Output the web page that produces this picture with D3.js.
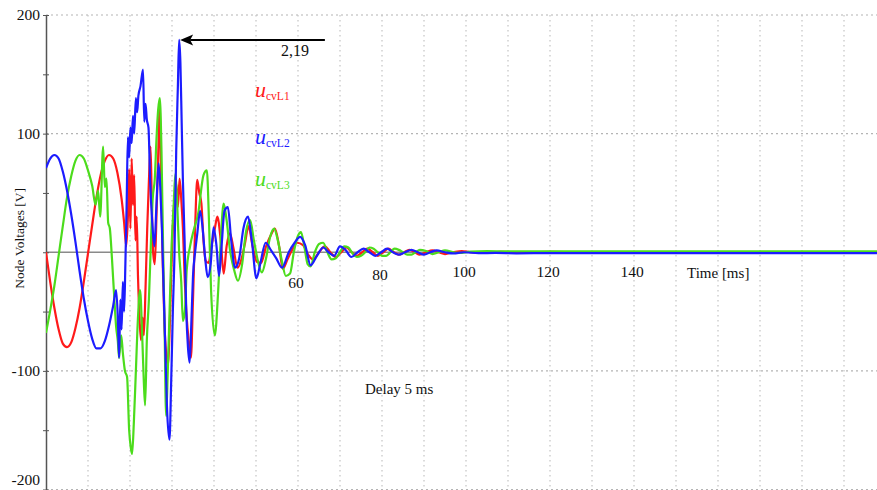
<!DOCTYPE html>
<html>
<head>
<meta charset="utf-8">
<script src="https://cdn.jsdelivr.net/npm/d3@7"></script>
<style>
  html, body { margin: 0; padding: 0; background: #fff; }
  svg { display: block; }
  text { font-family: "Liberation Serif", "Times New Roman", serif; fill: #111; }
</style>
</head>
<body>
<svg id="chart" width="877" height="490"></svg>
<script>
// Node voltages of the three phases, [time ms, voltage V]
const uL1 = [[0,0],[1,-25],[2,-47],[3,-65],[4,-77],[5,-80],[6,-76],[7,-64],[8,-47],[9,-25],[10,-1],[11,23],[12,46],[13,65],[14,77],[15,82],[16,79],[17,67],[18,45],[18.6,25],[19.1,5],
  [19.5,30],[19.8,70],[20.1,20],[20.4,79],[20.7,40],[21.0,65],[21.3,10],[21.6,30],[21.9,-20],[22.2,-50],[22.6,-74],[23.0,-55],[23.3,-70],[23.7,-30],[24.1,20],[24.5,60],[24.9,89],[25.2,40],[25.5,0],[25.9,-10],[26.3,30],[26.7,80],[27.1,124],[27.4,60],[27.8,-10],[28.2,-60],[28.6,-85],[29.0,-95],[29.4,-70],[29.8,-20],[30.2,20],[30.6,45],[31.0,58],[31.4,38],[31.8,62],[32.2,45],[32.6,20],[33.0,-20],[33.5,-55],[34.0,-75],[34.5,-89],[35.0,-40],[35.5,20],[36.0,61],[36.5,50],[37.0,41],[37.5,10],[38.0,-7],[38.7,-9],[39.4,5],[40.2,20],[40.8,30],[41.6,10],[42.3,-18],[43.0,5],[43.8,16],[44.6,4],[45.6,-13],[46.6,-5],[47.4,8],[48.2,22],[49.2,5],[50.2,-8],[51.2,-9],[52.4,5],[53.6,15],[54.5,20],[55.5,5],[56.4,-14],[57.5,-6],[58.6,2],[59.8,8],[61.2,6],[62.4,-2],[63.6,-6],[65,0],[66.4,5],[67.7,0],[69,-4],[70.3,0],[71.5,4],[72.8,0],[74,-3],[75.3,0],[76.5,3],[77.8,0],[79,-3],[80.3,0],[81.5,3],[82.8,0],[84,-2],[85.3,0],[86.5,2],[87.8,0],[89,-2],[90.5,0],[92,1.5],[93.5,0],[95,-1.5],[97,0],[99,1],[101,0],[104,-0.5],[108,0.4],[113,-0.3],[120,0.3],[130,-0.3],[140,0.2],[150,-0.2],[160,0.2],[170,-0.2],[180,0.1],[190,-0.1],[198,0]];

const uL2 = [[0,71],[1,79],[2,82],[3,79],[4,68],[5,52],[6,32],[7,9],[8,-16],[9,-39],[10,-58],[11,-73],[12,-81],[13,-81],[14,-75],[15,-62],[16,-45],[16.7,-32],[17.1,-55],[17.4,-89],[17.7,-40],[18.0,-65],[18.3,-25],[18.6,-50],[18.9,-10],[19.2,40],[19.5,97],[19.8,80],[20.1,105],[20.4,92],[20.7,115],[21.0,100],[21.4,130],[21.7,118],[22.0,132],[22.5,140],[23.1,154],[23.4,110],[23.7,125],[24.0,112],[24.4,105],[24.8,60],[25.3,25],[25.8,5],[26.3,40],[26.8,75],[27.2,55],[27.6,20],[28.0,-30],[28.4,-80],[28.8,-130],[29.4,-158],[29.8,-110],[30.2,-50],[30.6,0],[31.0,85],[31.4,140],[31.7,179],[32.0,160],[32.3,110],[32.6,60],[33.0,10],[33.4,-50],[33.8,-80],[34.2,-93],[34.6,-60],[35.0,-20],[35.5,0],[36.0,15],[36.7,35],[37.3,20],[37.9,-5],[38.5,-21],[39.2,-10],[39.9,21],[40.6,5],[41.2,-20],[41.8,5],[42.5,35],[43.3,38],[44.1,10],[45.0,-13],[46.0,-5],[47.0,20],[48.1,30],[49.0,10],[50.1,-22],[51.0,-10],[52.3,8],[53.5,2],[54.8,-5],[56.2,-13],[57.8,0],[59.2,8],[60.5,13],[61.7,6],[63.0,-11],[64.5,-3],[66.0,4],[67.3,0],[68.6,-3],[70.0,5],[71.3,2],[72.7,-4],[74.2,0],[75.6,3],[77.0,0],[78.4,-3],[79.8,0],[81.2,3],[82.6,0],[84,-2],[85.5,0],[87,2],[88.5,0],[90,-2],[91.5,0],[93,1.5],[95,0],[97,-1],[99.5,0],[103,-0.8],[107,-0.6],[112,-0.9],[120,-0.7],[130,-0.8],[140,-0.7],[150,-0.8],[160,-0.7],[170,-0.8],[180,-0.7],[190,-0.8],[198,-0.7]];

const uL3 = [[0,-68],[1,-49],[2,-28],[3,-3],[4,22],[5,46],[6,64],[7,77],[8,82],[9,79],[10,69],[11,56],[11.8,40],[12.4,52],[12.9,30],[13.6,89],[14.0,55],[14.4,62],[14.8,25],[15.2,20],[15.7,-5],[16.2,-35],[16.7,-63],[17.1,-75],[17.4,-89],[17.9,-70],[18.3,-85],[18.8,-100],[19.3,-105],[19.8,-150],[20.2,-165],[20.5,-170],[20.9,-145],[21.4,-100],[21.9,-55],[22.4,-32],[22.9,-70],[23.3,-110],[23.6,-129],[24.0,-75],[24.5,-40],[25.0,10],[25.4,45],[25.9,62],[26.3,95],[26.7,120],[27.1,130],[27.5,85],[27.9,0],[28.2,-55],[28.6,-138],[29.0,-100],[29.5,-40],[29.9,5],[30.4,40],[30.8,66],[31.2,44],[31.7,0],[32.2,-25],[32.6,-58],[33.1,-48],[33.5,-15],[34.3,5],[35.2,19],[36.2,32],[37.5,65],[38.3,69],[38.8,27],[39.3,-32],[40.2,-70],[41.0,-32],[41.6,10],[42.3,41],[43.0,27],[43.8,2],[44.8,-15],[45.7,-24],[46.7,-10],[47.6,17],[48.6,27],[49.5,10],[50.5,-8],[51.4,-17],[52.4,-5],[53.3,12],[54.3,20],[55.2,10],[56.2,-8],[57.1,-20],[58.1,-18],[59.0,0],[60.0,14],[60.7,17],[61.5,5],[62.3,-10],[63.0,-12],[64.0,0],[65.0,7],[66,8],[67,0],[68,-6],[69,-5],[70,0],[71,5],[72,4],[73,-1],[74,-4],[75,-3],[76,0],[77,4],[78,3],[79,0],[80,-3],[81,-3],[82,0],[83,3],[84,2],[85,0],[86,-2],[87,-2],[88,0],[89,2],[90.5,1],[92,-1.5],[93.5,0],[95,1.5],[97,0],[99,-0.5],[101,0.5],[105,0.9],[110,0.7],[120,0.8],[130,0.7],[140,0.8],[150,0.7],[160,0.8],[170,0.7],[180,0.8],[190,0.7],[198,0.8]];

const seriesNames = ["L1", "L2", "L3"];
const yLabelTicks = [-200, -100, 100, 200];
const yMarkTicks = [-200, -150, -100, -50, 0, 50, 100, 150, 200];
const xLabelTicks = [60, 80, 100, 120, 140];
const xGridTicks = [10, 20, 30, 40, 50, 60, 70, 80, 90, 100, 110, 120, 130, 140, 150, 160, 170, 180, 190];
const peakLabel = "2,19";
const arrowFrom = 66.4;   // ms, tail of the annotation arrow

const W = 877, H = 490;
const svg = d3.select("#chart");
const x = d3.scaleLinear().domain([0, 200]).range([46, 886]);
const y = d3.scaleLinear().domain([-200, 200]).range([489.5, 15]);
const colors = { L1: "#ff1a1a", L2: "#1c1cff", L3: "#4cdc1c" };

// grid
const grid = svg.append("g");
grid.selectAll("line.h").data(yLabelTicks).join("line")
  .attr("x1", x(0)).attr("x2", W).attr("y1", d => y(d)).attr("y2", d => y(d))
  .attr("stroke", "#b4b4b4").attr("stroke-width", 1.2).attr("stroke-dasharray", "2,3");
grid.selectAll("line.v").data(xGridTicks).join("line")
  .attr("x1", d => x(d)).attr("x2", d => x(d)).attr("y1", y(200)).attr("y2", H)
  .attr("stroke", "#c4c4c4").attr("stroke-width", 1.2).attr("stroke-dasharray", "1.5,3.5");

// time axis line
svg.append("line").attr("x1", x(0)).attr("x2", W).attr("y1", y(0)).attr("y2", y(0))
  .attr("stroke", "#8a8a8a").attr("stroke-width", 1.6);

// voltage axis
const yAxis = svg.append("g").attr("transform", `translate(${x(0)},0)`)
  .call(d3.axisLeft(y).tickValues(yMarkTicks).tickSizeInner(3).tickSizeOuter(0).tickPadding(3)
    .tickFormat(d => yLabelTicks.includes(d) ? String(d) : ""));
yAxis.select(".domain").attr("stroke", "#555").attr("stroke-width", 1.5);
yAxis.selectAll(".tick line").attr("stroke", "#555").attr("x2", 3).attr("x1", -3);
yAxis.selectAll(".tick text").attr("font-size", 15.5).attr("fill", "#111")
  .attr("font-family", "Liberation Serif, Times New Roman, serif");
// keep the lowest label inside the frame
yAxis.selectAll(".tick text").filter(d => d === -200).attr("y", -10);

// traces
svg.append("clipPath").attr("id", "plot").append("rect")
  .attr("x", x(0)).attr("y", 0).attr("width", W - x(0)).attr("height", H);
const line = d3.line().x(d => x(d[0])).y(d => y(d[1])).curve(d3.curveMonotoneX);
const traces = { L1: uL1, L2: uL2, L3: uL3 };
const drawOrder = ["L1", "L3", "L2"];
svg.append("g").attr("clip-path", "url(#plot)")
  .selectAll("path").data(drawOrder).join("path")
  .attr("d", k => line(traces[k]))
  .attr("fill", "none").attr("stroke", k => colors[k])
  .attr("stroke-width", 2.2).attr("stroke-linejoin", "round");

// time tick labels
svg.selectAll("text.xt").data(xLabelTicks).join("text")
  .attr("x", d => x(d) - 2)
  .attr("y", (d, i) => y(0) + (i === 0 ? 36 : (i === 1 ? 28 : 25)))
  .attr("text-anchor", "middle").attr("font-size", 15.5).text(d => d);
svg.append("text").attr("x", 687).attr("y", y(0) + 26).attr("font-size", 15).text("Time [ms]");

// axis title
svg.append("text").attr("transform", `translate(24,${y(0) - 14}) rotate(-90)`)
  .attr("text-anchor", "middle").attr("font-size", 13.5).text("Node Voltages [V]");

// peak annotation: arrow pointing left at the highest L2 sample
const peak = uL2.reduce((a, b) => (b[1] > a[1] ? b : a));
const tipX = x(peak[0]) + 1, tipY = y(peak[1]);
svg.append("line").attr("x1", tipX + 10).attr("y1", tipY)
  .attr("x2", x(arrowFrom)).attr("y2", tipY)
  .attr("stroke", "#000").attr("stroke-width", 2);
svg.append("path")
  .attr("d", `M${tipX},${tipY} L${tipX + 13},${tipY - 5.5} L${tipX + 10},${tipY} L${tipX + 13},${tipY + 5.5} Z`)
  .attr("fill", "#000");
svg.append("text").attr("x", 309).attr("y", tipY + 16).attr("text-anchor", "end")
  .attr("font-size", 16).text(peakLabel);

// legend
const legendY = [97, 144, 186];
seriesNames.forEach((k, i) => {
  const g = svg.append("g");
  g.append("text").attr("x", 255).attr("y", legendY[i]).attr("font-size", 22)
    .attr("font-style", "italic").style("fill", colors[k]).text("u");
  g.append("text").attr("x", 266).attr("y", legendY[i] + 3).attr("font-size", 11.5)
    .style("fill", colors[k]).text("cv" + k);
});

svg.append("text").attr("x", 365).attr("y", 394).attr("font-size", 15).text("Delay 5 ms");
</script>
</body>
</html>
